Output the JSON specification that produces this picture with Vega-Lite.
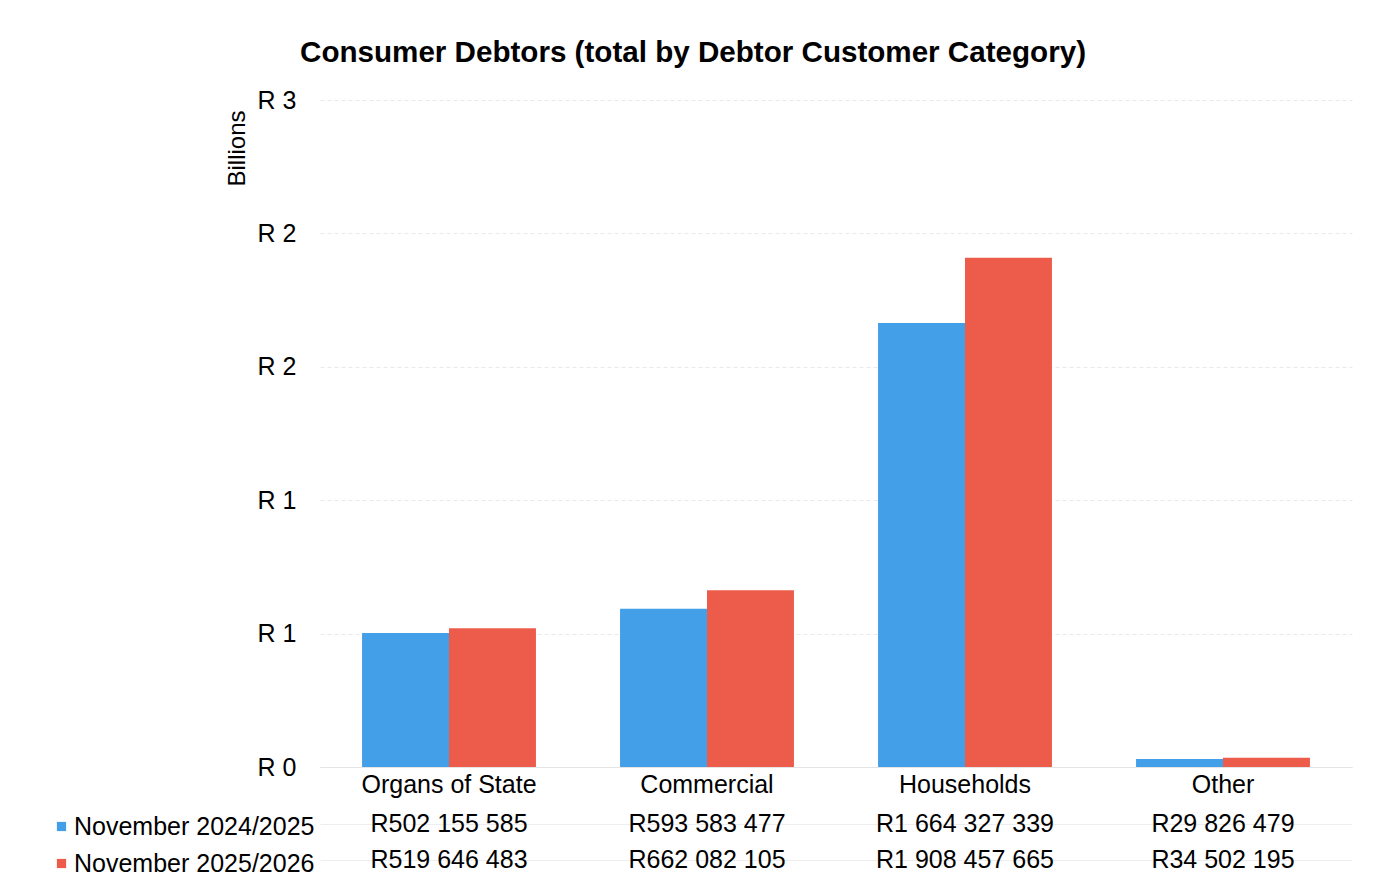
{
  "$schema": "https://vega.github.io/schema/vega-lite/v6.json",
  "background": "white",
  "padding": {"left": 49, "top": 38, "right": 20, "bottom": 8},
  "config": {
    "font": "Liberation Sans",
    "view": {"stroke": null},
    "concat": {"spacing": 9},
    "locale": {
      "number": {"decimal": ".", "thousands": " ", "grouping": [3], "currency": ["R", ""]}
    }
  },
  "title": {
    "text": "Consumer Debtors (total by Debtor Customer Category)",
    "font": "Liberation Sans",
    "fontSize": 29.6,
    "fontWeight": "bold",
    "color": "black",
    "anchor": "middle",
    "frame": "group",
    "dx": -143,
    "offset": 19
  },
  "data": {
    "values": [
      {"category": "Organs of State", "series": "November 2024/2025", "amount": 502155585},
      {"category": "Organs of State", "series": "November 2025/2026", "amount": 519646483},
      {"category": "Commercial", "series": "November 2024/2025", "amount": 593583477},
      {"category": "Commercial", "series": "November 2025/2026", "amount": 662082105},
      {"category": "Households", "series": "November 2024/2025", "amount": 1664327339},
      {"category": "Households", "series": "November 2025/2026", "amount": 1908457665},
      {"category": "Other", "series": "November 2024/2025", "amount": 29826479},
      {"category": "Other", "series": "November 2025/2026", "amount": 34502195}
    ]
  },
  "vconcat": [
    {
      "width": 1032,
      "height": 667,
      "mark": {"type": "bar"},
      "encoding": {
        "x": {
          "field": "category",
          "type": "nominal",
          "sort": ["Organs of State", "Commercial", "Households", "Other"],
          "scale": {"paddingInner": 0.326, "paddingOuter": 0.163},
          "axis": {
            "title": null,
            "labelAngle": 0,
            "labelFontSize": 25,
            "labelColor": "black",
            "labelPadding": 5,
            "ticks": false,
            "domainColor": "#e4e4e4"
          }
        },
        "xOffset": {
          "field": "series",
          "type": "nominal",
          "scale": {"paddingInner": 0, "paddingOuter": 0}
        },
        "y": {
          "field": "amount",
          "type": "quantitative",
          "scale": {"domain": [0, 2500000000], "nice": false},
          "axis": {
            "title": "Billions",
            "titleAnchor": "end",
            "titleY": 10,
            "titleFontSize": 24,
            "titleFontWeight": "normal",
            "titleColor": "black",
            "titlePadding": 8,
            "values": [0, 500000000, 1000000000, 1500000000, 2000000000, 2500000000],
            "labelExpr": "'R ' + round(datum.value / 1000000000)",
            "labelFontSize": 25,
            "labelColor": "black",
            "labelPadding": 24,
            "ticks": false,
            "domain": false,
            "gridColor": "#e9e9e9",
            "gridDash": [4, 3]
          }
        },
        "color": {
          "field": "series",
          "type": "nominal",
          "scale": {"range": ["#449fe9", "#ed5c4a"]},
          "legend": {
            "orient": "none",
            "legendX": -271,
            "legendY": 714,
            "title": null,
            "symbolType": "square",
            "symbolSize": 85,
            "symbolStrokeWidth": 0,
            "labelFontSize": 25,
            "labelColor": "black",
            "labelLimit": 0,
            "labelOffset": 0,
            "rowPadding": 11
          }
        }
      }
    },
    {
      "width": 1032,
      "height": 72,
      "mark": {"type": "text", "fontSize": 25, "color": "black"},
      "encoding": {
        "x": {
          "field": "category",
          "type": "nominal",
          "sort": ["Organs of State", "Commercial", "Households", "Other"],
          "scale": {"paddingInner": 0.326, "paddingOuter": 0.163},
          "axis": null
        },
        "y": {
          "field": "series",
          "type": "nominal",
          "axis": {
            "title": null,
            "labels": false,
            "ticks": false,
            "domain": false,
            "grid": true,
            "bandPosition": 0,
            "gridColor": "#eeeeee"
          }
        },
        "text": {"field": "amount", "type": "quantitative", "format": "$,.0f"}
      }
    }
  ]
}
